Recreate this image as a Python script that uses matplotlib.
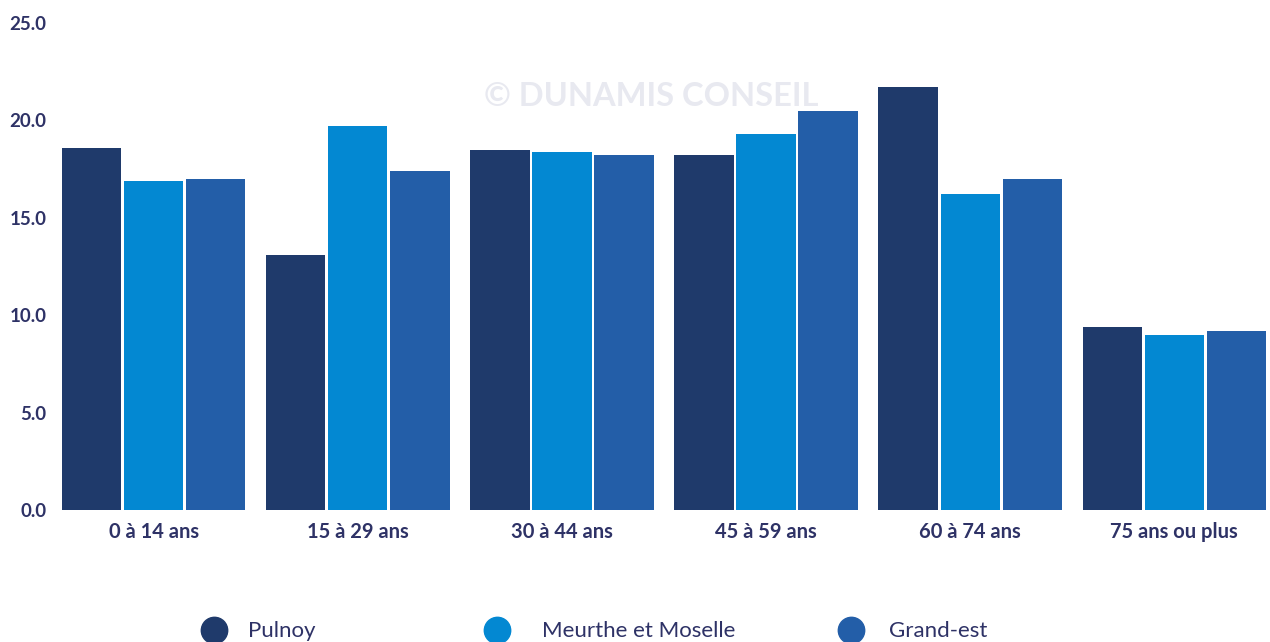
import numpy as np
import matplotlib
matplotlib.use('Agg')
import matplotlib.pyplot as plt
from matplotlib.lines import Line2D

# Data (% of population by age group)
categories = ['0 à 14 ans', '15 à 29 ans', '30 à 44 ans', '45 à 59 ans', '60 à 74 ans', '75 ans ou plus']
series_names = ['Pulnoy', 'Meurthe et Moselle', 'Grand-est']
pulnoy = [18.6, 13.1, 18.5, 18.2, 21.7, 9.4]
meurthe = [16.9, 19.7, 18.4, 19.3, 16.2, 9.0]
grand_est = [17.0, 17.4, 18.2, 20.5, 17.0, 9.2]
colors = ['#1f3a6b', '#0388d2', '#235ea8']

text_color = '#2e3266'
plt.rcParams['font.family'] = ['Lato', 'DejaVu Sans']

fig = plt.figure(figsize=(12.7, 6.42), dpi=100)
ax = fig.add_axes([62 / 1270, 1 - 510 / 642, (1266 - 62) / 1270, (510 - 23) / 642])

x = np.arange(len(categories))
width = 0.29
step = 0.304
for i, (vals, col) in enumerate(zip([pulnoy, meurthe, grand_est], colors)):
    ax.bar(x + (i - 1) * step, vals, width=width, color=col, zorder=2)

ax.set_xlim(-0.45, len(categories) - 0.55)
ax.set_ylim(0, 25)
ax.set_yticks([0, 5, 10, 15, 20, 25])
ax.set_yticklabels([f'{v:.1f}' for v in [0, 5, 10, 15, 20, 25]])
ax.set_xticks(x)
ax.set_xticklabels(categories)
ax.tick_params(axis='both', length=0, colors=text_color)
ax.tick_params(axis='y', pad=11, labelsize=13.5)
ax.tick_params(axis='x', pad=9, labelsize=14.5)
for lab in ax.get_xticklabels() + ax.get_yticklabels():
    lab.set_fontweight('bold')
for s in ax.spines.values():
    s.set_visible(False)

# watermark
fig.text(651 / 1270, 1 - 97 / 642, '© DUNAMIS CONSEIL', ha='center', va='center',
         fontsize=23.5, fontweight='bold', color='#e8e9f0', zorder=0)

# legend along the bottom
marker_x = [214, 497, 851]
label_x = [248, 542, 889]
for mx, lx, name, col in zip(marker_x, label_x, series_names, colors):
    fig.add_artist(Line2D([mx / 1270], [1 - 630 / 642], marker='o', markersize=19,
                          color=col, transform=fig.transFigure))
    fig.text(lx / 1270, 1 - 631 / 642, name, ha='left', va='center',
             fontsize=16, fontweight='normal', color=text_color)

fig.savefig('out.png', dpi=100)
